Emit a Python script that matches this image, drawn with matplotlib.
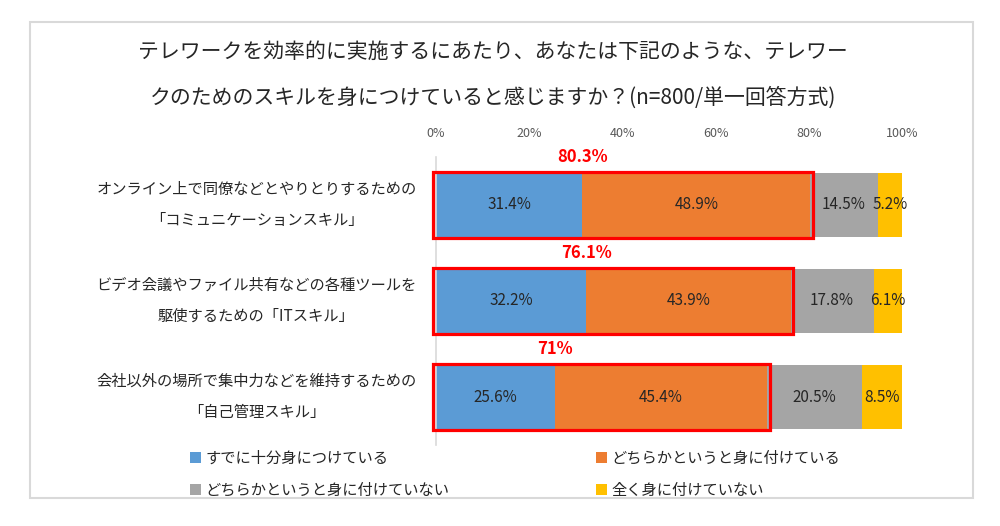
import matplotlib
matplotlib.use("Agg")
import matplotlib.pyplot as plt
from matplotlib.patches import Rectangle
import numpy as np

plt.rcParams['font.family'] = ['Noto Sans CJK JP', 'DejaVu Sans']

# ------------------- DATA -------------------
title = ("テレワークを効率的に実施するにあたり、あなたは下記のような、テレワー\n"
         "クのためのスキルを身につけていると感じますか？(n=800/単一回答方式)")

categories = [
    "オンライン上で同僚などとやりとりするための\n「コミュニケーションスキル」",
    "ビデオ会議やファイル共有などの各種ツールを\n駆使するための「ITスキル」",
    "会社以外の場所で集中力などを維持するための\n「自己管理スキル」",
]
series_names = [
    "すでに十分身につけている",
    "どちらかというと身に付けている",
    "どちらかというと身に付けていない",
    "全く身に付けていない",
]
already = [31.4, 32.2, 25.6]
rather_yes = [48.9, 43.9, 45.4]
rather_no = [14.5, 17.8, 20.5]
not_at_all = [5.2, 6.1, 8.5]
xticks = [0, 20, 40, 60, 80, 100]

colors = ["#5B9BD5", "#ED7D31", "#A5A5A5", "#FFC000"]
RED = "#FF0000"
TEXT = "#262626"

# ------------------- FIGURE -------------------
fig = plt.figure(figsize=(10, 5.26), dpi=100)
fig.patch.set_facecolor("white")

# outer frame
fig.add_artist(Rectangle((0.030, 1 - 498 / 526), 0.943, 476 / 526,
                         transform=fig.transFigure, fill=False,
                         edgecolor="#D9D9D9", linewidth=1.5))

fig.text(0.493, 1 - 75 / 526, title, ha="center", va="center",
         fontsize=15, color=TEXT, linespacing=2.35)

ax = fig.add_axes([0.436, 1 - 445 / 526, 0.466, 288 / 526])

y = np.arange(len(categories))
series = [already, rather_yes, rather_no, not_at_all]
bar_h = 0.66
left = np.zeros(len(categories))
handles = []
for vals, col, name in zip(series, colors, series_names):
    vals = np.array(vals)
    bars = ax.barh(y, vals, left=left, height=bar_h, color=col,
                   edgecolor="none", label=name)
    handles.append(bars)
    for yi, l, v in zip(y, left, vals):
        ax.text(l + v / 2, yi, f"{v:.1f}%", ha="center", va="center",
                fontsize=11, color=TEXT)
    left = left + vals

# red boxes around the "positive" share + total labels
top2 = np.round(np.array(already) + np.array(rather_yes), 1)
for yi, total, b in zip(y, top2, already):
    ax.add_patch(Rectangle((-0.6, yi - 0.345), total + 1.2, 0.69,
                           fill=False, edgecolor=RED, linewidth=2.3,
                           clip_on=False, zorder=5))
    ax.text(b, yi - 0.5, f"{total:g}%", ha="center", va="center",
            fontsize=12, color=RED, fontweight="bold", clip_on=False)

ax.set_xlim(0, 100)
ax.set_ylim(len(categories) - 0.5, -0.5)
ax.xaxis.tick_top()
ax.set_xticks(xticks)
ax.set_xticklabels([f"{t}%" for t in xticks], fontsize=9, color="#595959")
ax.tick_params(axis="x", length=0, pad=12)
ax.set_yticks(y)
ax.set_yticklabels(categories, fontsize=11, color=TEXT, linespacing=2.1,
                   multialignment="center", va="center")
ax.tick_params(axis="y", length=0, pad=14)
for s in ["top", "right", "bottom"]:
    ax.spines[s].set_visible(False)
ax.spines["left"].set_color("#D9D9D9")
ax.spines["left"].set_linewidth(1.2)

# legend: row-major order for ncol=2
order = [0, 2, 1, 3]
fig.legend([handles[i] for i in order], [series_names[i] for i in order],
           ncol=2, loc="upper left", bbox_to_anchor=(0.190, 1 - 450 / 526),
           frameon=False, fontsize=11, handlelength=0.7, handleheight=0.7,
           handletextpad=0.3, columnspacing=9.6, labelspacing=0.95,
           borderpad=0, borderaxespad=0, labelcolor=TEXT)

fig.savefig("out.png", dpi=100, facecolor="white")
